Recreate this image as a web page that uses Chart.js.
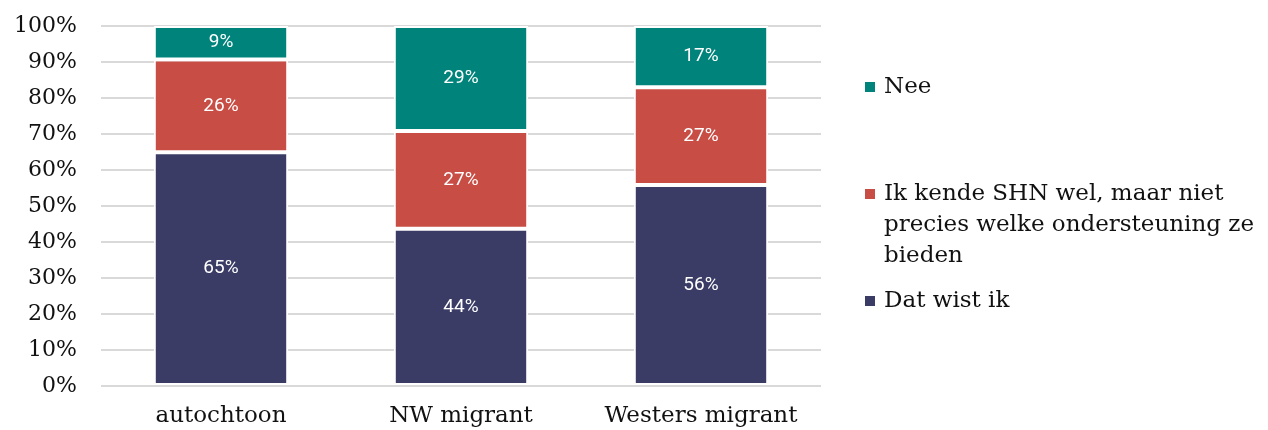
<!DOCTYPE html>
<html>
<head>
<meta charset="utf-8">
<script src="https://cdn.jsdelivr.net/npm/chart.js@4/dist/chart.umd.min.js"></script>
<style>
  html, body { margin: 0; padding: 0; background: #fff; }
  #wrap { width: 1268px; height: 430px; position: relative; }
</style>
</head>
<body>
<div id="wrap"><canvas id="chart"></canvas></div>
<script>
// ======= DATA =======
const categories = ["autochtoon", "NW migrant", "Westers migrant"];
const seriesNames = ["Dat wist ik", "Ik kende SHN wel, maar niet precies welke ondersteuning ze bieden", "Nee"];
const datWistIk = [64.9, 43.7, 55.8];
const ikKendeShn = [25.8, 27.1, 27.2];
const nee = [9.3, 29.2, 17.0];
const yTicks = [0, 10, 20, 30, 40, 50, 60, 70, 80, 90, 100];

const colors = ["#3a3c66", "#c84d44", "#00837a"];
const serif = "'DejaVu Serif', serif";

// labels in the middle of each segment
const segmentLabels = {
    id: "segmentLabels",
    afterDatasetsDraw(chart) {
        const ctx = chart.ctx;
        ctx.save();
        ctx.fillStyle = "#ffffff";
        ctx.font = "19px Roboto, sans-serif";
        ctx.textAlign = "center";
        ctx.textBaseline = "middle";
        chart.data.datasets.forEach((ds, i) => {
            chart.getDatasetMeta(i).data.forEach((bar, j) => {
                const yMid = (bar.y + bar.base) / 2;
                ctx.fillText(Math.round(ds.data[j]) + "%", bar.x, yMid);
            });
        });
        ctx.restore();
    }
};

// legend on the right, wrapped text, reversed order
const sideLegend = {
    id: "sideLegend",
    afterDraw(chart) {
        const ctx = chart.ctx;
        const x = 865, textX = 884, maxW = 380, firstY = 87, itemGap = 107, lineH = 31;
        ctx.save();
        ctx.font = "23px " + serif;
        ctx.textBaseline = "middle";
        ctx.textAlign = "left";
        const items = chart.data.datasets.slice().reverse();
        items.forEach((ds, i) => {
            const words = ds.label.split(" ");
            const lines = [];
            let cur = "";
            words.forEach(w => {
                const test = cur ? cur + " " + w : w;
                if (ctx.measureText(test).width > maxW && cur) {
                    lines.push(cur);
                    cur = w;
                } else {
                    cur = test;
                }
            });
            if (cur) lines.push(cur);
            const y0 = firstY + itemGap * i;
            ctx.fillStyle = ds.backgroundColor;
            ctx.fillRect(x, y0 - 5, 10, 10);
            ctx.fillStyle = "#111111";
            lines.forEach((ln, k) => ctx.fillText(ln, textX, y0 + k * lineH));
        });
        ctx.restore();
    }
};

const datasets = [datWistIk, ikKendeShn, nee].map((d, i) => ({
    label: seriesNames[i],
    data: d,
    backgroundColor: colors[i],
    borderColor: "#ffffff",
    borderWidth: 2,
    borderSkipped: false,
    barPercentage: 1,
    categoryPercentage: 0.56
}));

new Chart(document.getElementById("chart"), {
    type: "bar",
    data: { labels: categories, datasets: datasets },
    options: {
        responsive: true,
        maintainAspectRatio: false,
        animation: false,
        layout: { padding: { top: 26, right: 447, bottom: 0, left: 0 } },
        plugins: {
            legend: { display: false },
            tooltip: { enabled: false }
        },
        scales: {
            x: {
                stacked: true,
                grid: { display: false },
                border: { display: false },
                ticks: { color: "#111111", font: { family: serif, size: 23 }, padding: 8 },
                afterFit(axis) { axis.height = 44; }
            },
            y: {
                stacked: true,
                min: 0,
                max: 100,
                afterBuildTicks(axis) { axis.ticks = yTicks.map(v => ({ value: v })); },
                grid: { color: "#d9d9d9", lineWidth: 2, drawTicks: false },
                border: { display: false },
                ticks: {
                    color: "#111111",
                    font: { family: serif, size: 22 },
                    padding: 24,
                    callback: v => v + "%"
                },
                afterFit(axis) {
                    axis.width = 101;
                    axis.paddingTop = 0;
                    axis.paddingBottom = 0;
                }
            }
        }
    },
    plugins: [segmentLabels, sideLegend]
});
</script>
</body>
</html>
